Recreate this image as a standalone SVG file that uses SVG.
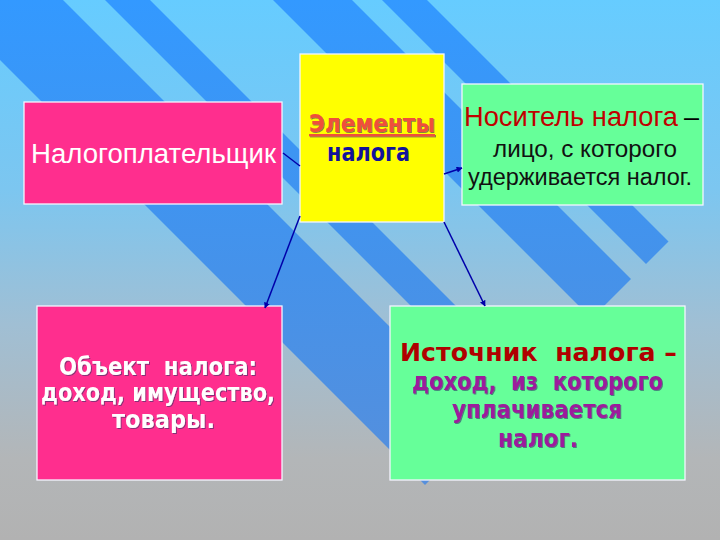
<svg xmlns="http://www.w3.org/2000/svg" width="720" height="540" viewBox="0 0 720 540">
<defs>
<linearGradient id="bg" x1="0" y1="0" x2="0" y2="540" gradientUnits="userSpaceOnUse">
<stop offset="0" stop-color="#66ccff"/>
<stop offset="0.35" stop-color="#7cc6f0"/>
<stop offset="0.6" stop-color="#a0bfd4"/>
<stop offset="0.85" stop-color="#b3b6b8"/>
<stop offset="1" stop-color="#b2b2b2"/>
</linearGradient>
<linearGradient id="stripe" x1="0" y1="0" x2="0" y2="540" gradientUnits="userSpaceOnUse">
<stop offset="0" stop-color="#3399ff"/>
<stop offset="0.5" stop-color="#4592ea"/>
<stop offset="1" stop-color="#5a8ed8"/>
</linearGradient>
<filter id="sh" x="-5%" y="-20%" width="110%" height="140%">
<feDropShadow dx="1" dy="1" stdDeviation="0.6" flood-color="#333366" flood-opacity="0.6"/>
</filter>
<marker id="ah" viewBox="0 0 10 10" refX="9" refY="5" markerWidth="6" markerHeight="6" markerUnits="userSpaceOnUse" orient="auto">
<path d="M0,0 L10,5 L0,10 Z" fill="#0000aa"/>
</marker>
<style>
.box{stroke:#f4f4ff;stroke-width:1.3}
.pink{fill:#ff2e8e}
.green{fill:#66ff99}
.yellow{fill:#ffff00}
.reg{font-family:"Liberation Sans","Arial",sans-serif;font-size:27px}
.small{font-size:23px}
.bold{font-family:"DejaVu Sans","Verdana",sans-serif;font-weight:bold;font-size:24px}
.conn{stroke:#0000aa;stroke-width:1.5;fill:none}
</style>
</defs>

<rect x="0" y="0" width="720" height="540" fill="url(#bg)"/>
<g id="stripes" fill="url(#stripe)">
<polygon points="-70,-10 53,-10 486.5,423.5 425,485"/>
<polygon points="95,-10 140,-10 530,380 507.5,402.5"/>
<polygon points="263,-10 342,-10 631,279 591.5,318.5"/>
<polygon points="372,-10 417,-10 668.5,241.5 646,264"/>
</g>

<g id="taxpayer">
<rect class="box pink" x="24" y="102" width="258" height="102"/>
<text class="reg" x="31" y="163" fill="#ffffff" textLength="245" lengthAdjust="spacingAndGlyphs">Налогоплательщик</text>
</g>

<g id="elements">
<rect class="box yellow" x="300" y="54" width="144" height="168"/>
<text class="bold" x="309" y="132" fill="#ef4f3a" font-size="22" text-decoration="underline" filter="url(#sh)" textLength="126" lengthAdjust="spacingAndGlyphs">Элементы</text>
<text class="bold" x="327" y="161" fill="#12129a" font-size="22" textLength="83" lengthAdjust="spacingAndGlyphs">налога</text>
</g>

<g id="carrier">
<rect class="box green" x="462" y="84" width="241" height="121"/>
<text class="reg" x="464" y="126" fill="#000000"><tspan fill="#c00000" textLength="214" lengthAdjust="spacingAndGlyphs">Носитель налога</tspan><tspan x="684">–</tspan></text>
<text class="reg small" x="493" y="157" fill="#111111" textLength="184" lengthAdjust="spacingAndGlyphs">лицо, с которого</text>
<text class="reg small" x="468" y="185" fill="#111111" textLength="224" lengthAdjust="spacingAndGlyphs">удерживается налог.</text>
</g>

<g id="object">
<rect class="box pink" x="37" y="306" width="245" height="174"/>
<g fill="#ffffff" filter="url(#sh)">
<text class="bold" x="59" y="375" xml:space="preserve" textLength="198" lengthAdjust="spacingAndGlyphs">Объект  налога:</text>
<text class="bold" x="41" y="401" textLength="234" lengthAdjust="spacingAndGlyphs">доход, имущество,</text>
<text class="bold" x="112" y="428" textLength="103" lengthAdjust="spacingAndGlyphs">товары.</text>
</g>
</g>

<g id="source">
<rect class="box green" x="390" y="306" width="295" height="174"/>
<text class="bold" x="400" y="361" fill="#b00000" font-size="25" xml:space="preserve" textLength="277" lengthAdjust="spacingAndGlyphs">Источник  налога –</text>
<g fill="#9c1a9c" filter="url(#sh)">
<text class="bold" x="412" y="390" xml:space="preserve" textLength="251" lengthAdjust="spacingAndGlyphs">доход,  из  которого</text>
<text class="bold" x="452" y="418" textLength="170" lengthAdjust="spacingAndGlyphs">уплачивается</text>
<text class="bold" x="498" y="447" textLength="80" lengthAdjust="spacingAndGlyphs">налог.</text>
</g>
</g>

<g id="connectors" class="conn">
<line x1="283" y1="153" x2="300" y2="166"/>
<line x1="444" y1="174" x2="462" y2="168" marker-end="url(#ah)"/>
<line x1="300" y1="216" x2="265" y2="308" marker-end="url(#ah)"/>
<line x1="444" y1="222" x2="485" y2="306" marker-end="url(#ah)"/>
</g>
</svg>
